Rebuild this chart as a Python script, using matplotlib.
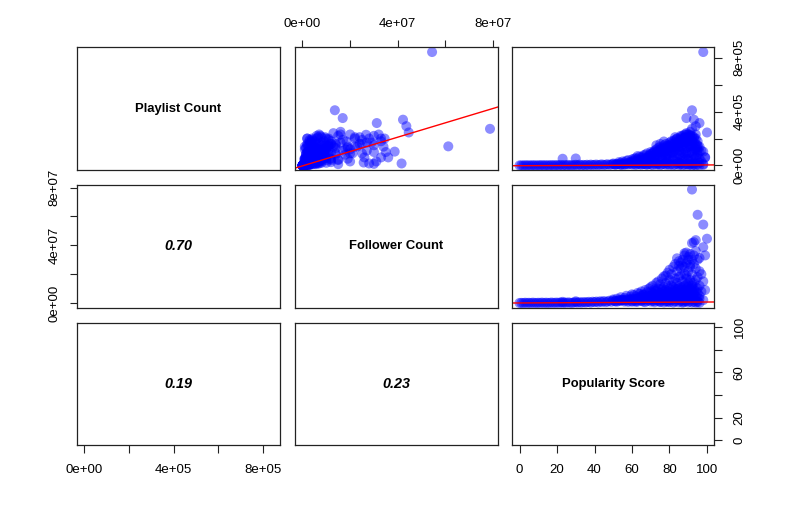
import numpy as np
import matplotlib
matplotlib.use("Agg")
import matplotlib.pyplot as plt

plt.rcParams['font.family'] = ['Liberation Sans', 'DejaVu Sans']

# ---------------- data ----------------
var_names = ["Playlist Count", "Follower Count", "Popularity Score"]

# dense band of artists with near-zero playlists / followers
band_popularity = [0, 1, 2, 3, 4, 5, 6, 7, 8, 9,
                   10, 11, 12, 13, 14, 15, 16, 17, 18, 19,
                   20, 21, 22, 23, 24, 25, 26, 27, 28, 29,
                   30, 31, 32, 33, 34, 35, 36, 37, 38, 39,
                   40, 41, 42, 43, 44, 45, 46, 47, 48, 49,
                   50, 51, 52, 53, 54, 55, 56, 57, 58, 59,
                   60, 61, 62, 63, 64, 65, 66, 67, 68, 69,
                   70, 71, 72, 73, 74, 75, 76, 77, 78, 79,
                   80, 81, 82, 83, 84, 85, 86, 87, 88, 89,
                   90, 91, 92, 93, 94, 95, 96]
band_followers_m = [0.05, 0.10, 0.03, 0.20, 0.08, 0.15, 0.04, 0.25, 0.12, 0.06,
                    0.18, 0.09, 0.30, 0.05, 0.22, 0.14, 0.07, 0.35, 0.11, 0.19,
                    0.28, 0.13, 0.40, 0.08, 0.33, 0.16, 0.45, 0.21, 0.10, 0.38,
                    0.50, 0.25, 0.60, 0.18, 0.70, 0.35, 0.55, 0.80, 0.30, 0.90,
                    0.65, 1.00, 0.45, 1.20, 0.75, 1.40, 0.60, 1.10, 1.60, 0.85,
                    1.80, 1.30, 0.90, 2.00, 1.50, 2.20, 1.00, 2.40, 1.70, 2.60,
                    1.20, 2.80, 0.80, 2.00, 3.00, 1.40, 2.50, 0.60, 3.20, 1.80,
                    1.00, 2.60, 0.50, 3.00, 1.50, 0.70, 2.20, 0.40, 1.20, 0.90,
                    0.60, 1.80, 0.30, 1.00, 2.40, 0.50, 1.40, 0.20, 0.80, 1.60,
                    0.40, 1.20, 0.30, 0.90, 0.20, 0.60, 0.10]
band_playlists_k = [0.5, 1.2, 0.3, 2.0, 0.8, 1.5, 0.2, 2.5, 1.0, 0.6,
                    1.8, 0.9, 3.0, 0.4, 2.2, 1.3, 0.7, 3.5, 1.1, 1.9,
                    2.8, 1.4, 4.0, 0.9, 3.2, 1.6, 4.5, 2.0, 1.0, 3.8,
                    5.0, 2.4, 6.0, 1.8, 4.2, 3.0, 5.5, 2.2, 6.5, 3.6,
                    4.8, 7.0, 2.6, 5.8, 8.0, 3.4, 6.2, 9.0, 4.4, 7.5,
                    10.0, 5.2, 8.5, 12.0, 6.0, 9.5, 4.0, 11.0, 7.0, 13.0,
                    6.5, 10.5, 3.5, 12.5, 8.0, 5.5, 14.0, 9.0, 4.5, 11.5,
                    7.5, 3.0, 13.5, 6.0, 10.0, 2.5, 8.5, 12.0, 5.0, 9.5,
                    4.0, 11.0, 2.0, 7.0, 13.0, 3.5, 9.0, 1.5, 6.0, 10.0,
                    2.5, 8.0, 1.0, 5.0, 3.0, 6.5, 1.5]

# dense core of moderately popular artists (low followers, growing playlists)
core_popularity = [60, 61, 62, 63, 64, 65, 66, 67, 68, 69, 66, 68,
                   70, 71, 71, 72, 72, 73, 73, 74, 74, 75, 75, 76, 76, 77, 77, 78, 78, 79, 79, 79,
                   80, 80, 81, 81, 82, 82, 82, 83, 83, 83, 84, 84, 85, 85, 85, 86, 86, 86, 87, 87, 87,
                   88, 88, 88, 89, 89, 89, 89,
                   90, 90, 90, 91, 91, 91, 92, 92, 92, 93, 93, 93, 94, 94, 94, 95, 95, 95, 96, 96]
core_followers_m = [3.0, 2.0, 4.5, 1.0, 3.5, 5.0, 2.5, 6.0, 1.5, 4.0, 5.5, 3.0,
                    5.0, 7.0, 1.5, 4.0, 8.5, 2.0, 6.0, 3.0, 7.5, 1.0, 5.0, 10.0, 4.0, 2.5, 6.5, 9.0, 3.0, 5.0, 8.0, 1.5,
                    6.0, 2.0, 9.0, 7.0, 3.0, 11.0, 5.0, 10.0, 1.5, 8.0, 6.0, 9.5, 3.0, 7.5, 12.0, 2.0, 6.0, 9.0,
                    4.0, 11.0, 1.0, 5.5, 8.0, 12.0, 3.5, 7.0, 10.0, 1.5,
                    4.0, 9.0, 11.5, 2.5, 7.5, 10.0, 5.0, 8.0, 12.0, 3.0, 9.5, 6.0, 4.5, 11.0, 2.0, 7.0, 10.0, 1.5,
                    5.0, 3.0]
core_playlists_k = [20, 35, 15, 50, 40, 25, 60, 35, 55, 75, 10, 30,
                    60, 30, 90, 50, 100, 100, 20, 80, 110, 120, 60, 40, 130, 90, 120, 140, 20, 80, 150, 50,
                    130, 150, 90, 160, 180, 140, 50, 120, 130, 170, 200, 60, 190, 110, 160, 100, 220, 70,
                    190, 200, 140, 160, 210, 40, 170, 230, 130, 80,
                    200, 180, 50, 150, 220, 100, 180, 40, 160, 110, 210, 70, 140, 120, 200, 80, 150, 30,
                    100, 20]

# rising cloud of popular artists
cloud_popularity = [50, 51, 52, 53, 54, 55, 56, 57, 58, 59, 60, 60, 58, 56, 54,
                    61, 62, 63, 64, 65, 65, 66, 67, 67, 68, 69, 69, 70, 70, 70, 62, 64, 66, 68, 63,
                    71, 72, 72, 73, 73, 74, 74, 75, 75, 76, 76, 77, 77, 78, 78, 79, 79, 80, 80, 80,
                    71, 72, 74, 75, 76, 77, 78, 79, 80, 73,
                    81, 81, 82, 82, 83, 83, 84, 84, 85, 85, 85, 86, 86, 87, 87, 87, 88, 88, 88,
                    89, 89, 89, 90, 90, 90, 81, 82, 83, 84, 85, 86, 86, 87, 88, 89, 90, 84, 86, 88,
                    91, 91, 91, 92, 92, 92, 93, 93, 93, 94, 94, 95, 95, 96, 97, 98, 99,
                    91, 92, 93, 94, 95, 96, 97, 98, 94]
cloud_followers_m = [2.5, 1.2, 3.0, 1.5, 4.0, 2.0, 3.5, 5.0, 2.5, 4.5, 6.0, 1.0, 0.8, 1.8, 2.2,
                     5.5, 3.0, 7.0, 4.0, 8.0, 2.0, 6.0, 9.0, 3.5, 7.5, 10.0, 5.0, 11.0, 2.5, 8.0, 1.5, 6.5, 1.0, 4.5, 2.5,
                     12.0, 6.0, 9.5, 14.0, 4.0, 10.0, 15.0, 7.0, 13.0, 17.0, 3.0, 11.0, 8.0, 19.0, 14.0, 6.0, 21.0, 16.0, 10.0, 23.0,
                     3.0, 1.5, 5.5, 2.0, 9.0, 4.5, 7.0, 12.0, 3.5, 8.5,
                     12.0, 20.0, 25.0, 8.0, 17.0, 27.0, 14.0, 22.0, 29.0, 5.0, 18.0, 24.0, 11.0, 30.0, 15.0, 26.0, 20.0, 33.0, 9.0,
                     28.0, 13.0, 35.0, 22.0, 32.0, 6.0, 4.0, 15.0, 6.5, 2.5, 10.0, 3.5, 19.0, 7.0, 2.0, 19.0, 14.0, 31.0, 28.0, 25.0,
                     25.0, 16.0, 34.0, 30.0, 10.0, 20.0, 27.0, 33.0, 14.0, 24.0, 8.0, 18.0, 30.0, 12.0, 20.0, 15.0, 9.0,
                     5.0, 3.0, 7.0, 16.0, 4.0, 22.0, 8.0, 2.0, 36.0]
cloud_playlists_k = [15, 8, 10, 25, 20, 30, 12, 35, 40, 25, 30, 45, 18, 22, 5,
                     50, 55, 40, 65, 60, 30, 75, 50, 80, 90, 70, 40, 85, 100, 20, 25, 15, 45, 10, 70,
                     95, 110, 60, 80, 120, 130, 45, 100, 140, 110, 70, 150, 30, 130, 160, 120, 90, 170, 55, 140,
                     40, 75, 15, 160, 85, 105, 60, 25, 110, 150,
                     180, 120, 160, 100, 190, 110, 150, 200, 170, 140, 80, 210, 190, 150, 220, 60, 230, 180, 120,
                     200, 240, 100, 210, 230, 160, 60, 40, 210, 90, 20, 170, 140, 30, 200, 50, 90, 30, 15, 90,
                     190, 250, 140, 220, 200, 90, 170, 200, 130, 160, 60, 120, 100, 50, 30, 10, 60,
                     30, 150, 15, 230, 180, 140, 110, 5, 60]

# isolated points
outlier_popularity = [98, 92, 95, 100, 94, 93, 98, 92, 92, 89, 96, 88, 99, 77, 23, 30, 91, 85, 90]
outlier_followers_m = [54.4, 78.7, 61.2, 44.6, 43.6, 42.2, 38.7, 41.6, 13.6, 16.9,
                       31.2, 34.5, 33.0, 18.5, 0.8, 1.2, 26.7, 25.7, 30.0]
outlier_playlists_k = [842, 272, 142, 245, 292, 340, 103, 15, 410, 352,
                       315, 200, 60, 178, 50, 52, 228, 22, 12]

# correlations printed in the lower panels: (row, col) -> text
corr_cells = [(1, 0), (2, 0), (2, 1)]
corr_labels = ["0.70", "0.19", "0.23"]

# regression lines (intercept, slope) of y on x in the upper panels
fit_cells = [(0, 1), (0, 2), (1, 2)]
fit_intercepts = [-3.0e3, -1.5e3, 3.0e4]
fit_slopes = [5.33e-3, 55.0, 6.5e3]

# axis ticks
playlist_ticks = [0, 2e5, 4e5, 6e5, 8e5]
playlist_tick_labels = ["0e+00", "", "4e+05", "", "8e+05"]
follower_ticks = [0, 2e7, 4e7, 6e7, 8e7]
follower_tick_labels = ["0e+00", "", "4e+07", "", "8e+07"]
popularity_ticks = [0, 20, 40, 60, 80, 100]
popularity_bottom_labels = ["0", "20", "40", "60", "80", "100"]
popularity_right_labels = ["0", "20", "", "60", "", "100"]

# ---------------- assemble ----------------
popularity = np.array(band_popularity + core_popularity + cloud_popularity + outlier_popularity, float)
followers = np.array(band_followers_m + core_followers_m + cloud_followers_m + outlier_followers_m, float) * 1e6
playlists = np.array(band_playlists_k + core_playlists_k + cloud_playlists_k + outlier_playlists_k, float) * 1e3
vars_ = [playlists, followers, popularity]

lims = []
for v in vars_:
    lo, hi = v.min(), v.max()
    r = hi - lo
    lims.append((lo - 0.04 * r, hi + 0.04 * r))

W, H = 785, 525
fig = plt.figure(figsize=(W / 100, H / 100), dpi=100)
col_left = [77, 295, 512]
row_top = [47.5, 185, 322.5]
pw, ph = 202.5, 122.5

axes = {}
for i in range(3):
    for j in range(3):
        ax = fig.add_axes([col_left[j] / W, 1 - (row_top[i] + ph) / H, pw / W, ph / H])
        ax.set_xlim(lims[j])
        ax.set_ylim(lims[i])
        ax.set_xticks([])
        ax.set_yticks([])
        for sp in ax.spines.values():
            sp.set_linewidth(0.9)
            sp.set_color('#222222')
        axes[(i, j)] = ax
        if i == j:
            ax.text(0.5, 0.5, var_names[i], transform=ax.transAxes, ha='center', va='center',
                    fontsize=9.4, fontweight='bold')
        elif j > i:
            ax.scatter(vars_[j], vars_[i], s=52, c='blue', alpha=0.45, edgecolors='none')

for (i, j), a, b in zip(fit_cells, fit_intercepts, fit_slopes):
    ax = axes[(i, j)]
    xs = np.array(lims[j])
    ax.plot(xs, a + b * xs, color='red', lw=1.0)
    ax.set_xlim(lims[j]); ax.set_ylim(lims[i])

for (i, j), lab in zip(corr_cells, corr_labels):
    axes[(i, j)].text(0.5, 0.5, lab, transform=axes[(i, j)].transAxes, ha='center', va='center',
                      fontsize=10.4, fontweight='bold', fontstyle='italic')

tick_kw = dict(direction='out', length=5.4, width=0.8, labelsize=9.5, color='#222222')

def xaxis(ax, ticks, labels, top=False, pad=6.5):
    ax.set_xticks(ticks)
    ax.set_xticklabels(labels)
    if top:
        ax.xaxis.tick_top()
    ax.tick_params(axis='x', pad=pad, **tick_kw)

def yaxis(ax, ticks, labels, right=False, pad=6.5):
    ax.set_yticks(ticks)
    ax.set_yticklabels(labels, rotation=90, va='center')
    if right:
        ax.yaxis.tick_right()
    ax.tick_params(axis='y', pad=pad, **tick_kw)

xaxis(axes[(2, 0)], playlist_ticks, playlist_tick_labels, pad=8.5)
xaxis(axes[(2, 2)], popularity_ticks, popularity_bottom_labels, pad=8.5)
xaxis(axes[(0, 1)], follower_ticks, follower_tick_labels, top=True, pad=7.2)
yaxis(axes[(1, 0)], follower_ticks, follower_tick_labels, pad=6.5)
yaxis(axes[(0, 2)], playlist_ticks, playlist_tick_labels, right=True, pad=8.5)
yaxis(axes[(2, 2)], popularity_ticks, popularity_right_labels, right=True, pad=8.5)

fig.savefig("out.png", dpi=100, facecolor='white')
